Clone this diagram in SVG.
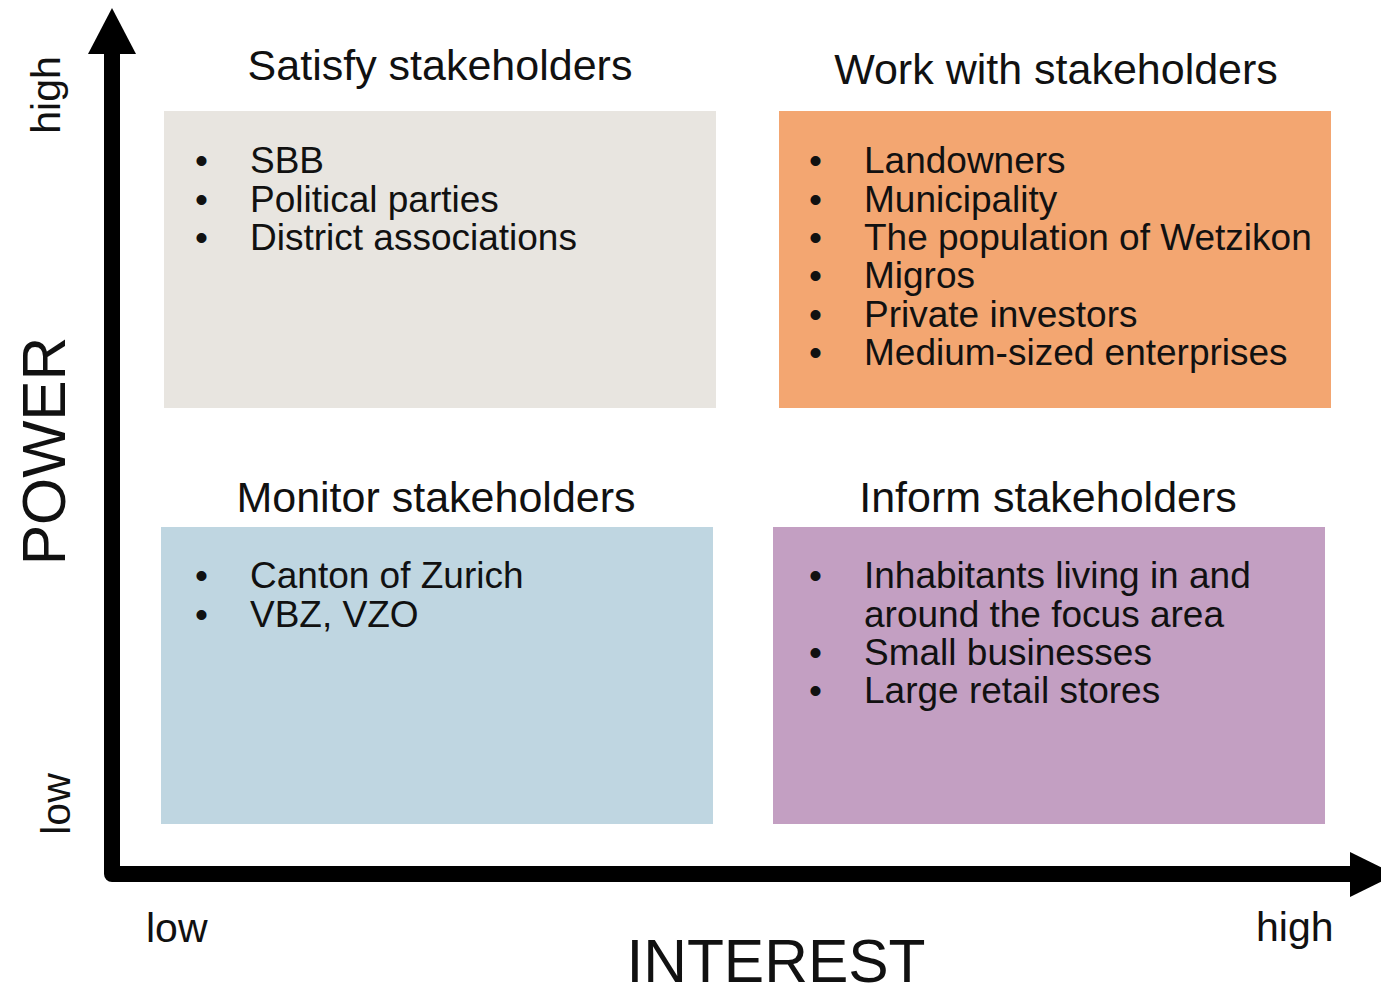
<svg xmlns="http://www.w3.org/2000/svg" width="1381" height="988" viewBox="0 0 1381 988">
<style>
text{font-family:"Liberation Sans",Arial,sans-serif;fill:#111}
.title{font-size:43px;text-anchor:middle}
.item{font-size:37px}
.axis{font-size:41px}
.big{font-size:60.5px}
</style>
<rect width="1381" height="988" fill="#ffffff"/>
<g id="connectors">
<path d="M112,50 L112,874 L1352,874" fill="none" stroke="#000" stroke-width="16" stroke-linejoin="round"/>
<polygon points="112,8 136,54 88,54" fill="#000"/>
<polygon points="1350,852 1396,874.5 1350,897" fill="#000"/>
</g>
<g id="satisfy">
<rect x="164" y="111" width="552" height="297" fill="#e8e5e0"/>
<text class="title" x="440" y="80">Satisfy stakeholders</text>
<text class="item" x="195" y="173">•</text><text class="item" x="250" y="173">SBB</text>
<text class="item" x="195" y="211.5">•</text><text class="item" x="250" y="211.5">Political parties</text>
<text class="item" x="195" y="250">•</text><text class="item" x="250" y="250">District associations</text>
</g>
<g id="work">
<rect x="779" y="111" width="552" height="297" fill="#f3a671"/>
<text class="title" x="1056" y="84">Work with stakeholders</text>
<text class="item" x="809" y="173">•</text><text class="item" x="864" y="173">Landowners</text>
<text class="item" x="809" y="211.5">•</text><text class="item" x="864" y="211.5">Municipality</text>
<text class="item" x="809" y="250">•</text><text class="item" x="864" y="250">The population of Wetzikon</text>
<text class="item" x="809" y="288">•</text><text class="item" x="864" y="288">Migros</text>
<text class="item" x="809" y="326.5">•</text><text class="item" x="864" y="326.5">Private investors</text>
<text class="item" x="809" y="365">•</text><text class="item" x="864" y="365">Medium-sized enterprises</text>
</g>
<g id="monitor">
<rect x="161" y="527" width="552" height="297" fill="#bfd6e1"/>
<text class="title" x="436" y="512">Monitor stakeholders</text>
<text class="item" x="195" y="588">•</text><text class="item" x="250" y="588">Canton of Zurich</text>
<text class="item" x="195" y="626.5">•</text><text class="item" x="250" y="626.5">VBZ, VZO</text>
</g>
<g id="inform">
<rect x="773" y="527" width="552" height="297" fill="#c39fc2"/>
<text class="title" x="1048" y="512">Inform stakeholders</text>
<text class="item" x="809" y="588">•</text><text class="item" x="864" y="588">Inhabitants living in and</text>
<text class="item" x="864" y="626.5">around the focus area</text>
<text class="item" x="809" y="665">•</text><text class="item" x="864" y="665">Small businesses</text>
<text class="item" x="809" y="703">•</text><text class="item" x="864" y="703">Large retail stores</text>
</g>
<g id="labels">
<text class="big" transform="translate(65,451) rotate(-90)" text-anchor="middle">POWER</text>
<text class="axis" transform="translate(60,95) rotate(-90)" text-anchor="middle">high</text>
<text class="axis" transform="translate(70,804) rotate(-90)" text-anchor="middle">low</text>
<text class="big" x="776" y="982" text-anchor="middle">INTEREST</text>
<text class="axis" x="146" y="942">low</text>
<text class="axis" x="1256" y="941">high</text>
</g>
</svg>
